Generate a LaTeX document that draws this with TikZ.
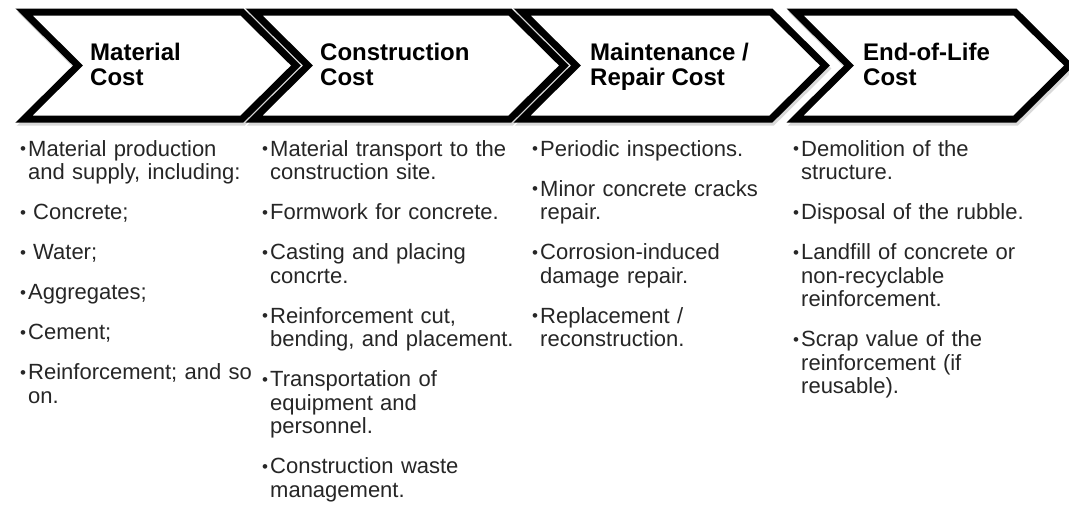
\documentclass[tikz,border=0pt]{standalone}
\usepackage{fontspec}
\setmainfont{Liberation Sans}

% chevron outline: left x, right x (top corners); pointer depth 54
\newcommand\chevronpath[2]{(#1,12) -- (#2,12) -- (#2+54,65.5) -- (#2,119) -- (#1,119) -- (#1+54,65.5) -- cycle}
% bullet item with hanging indent
\newcommand\smallbullet{\raisebox{1.5pt}{\fontsize{17}{17}\selectfont\textbullet}}
\newcommand\bitem[1]{\par\noindent\hangindent=8pt\hangafter=1\makebox[8pt][l]{\smallbullet}#1\par}

\begin{document}
\begin{tikzpicture}[x=1pt,y=-1pt,
  chev/.style={draw=black, line width=7pt, line join=miter, fill=white},
  chevshade/.style={draw=black!15, line width=7pt, line join=miter},
  head/.style={anchor=north west, inner sep=0pt, align=left,
    font=\fontsize{24}{25}\selectfont\bfseries},
  body/.style={anchor=north west, inner sep=0pt, text width=262pt, align=left,
    font=\fontsize{22}{23.5}\selectfont, text=black!85}]
\useasboundingbox (0,0) rectangle (1069,512);
\fill[white] (0,0) rectangle (1069,512);

% soft shadows under the chevrons
\foreach \l/\r in {24/242,254/510,522/771,795/1015}
  \draw[chevshade, shift={(1.5,3)}] \chevronpath{\l}{\r};
% chevrons
\foreach \l/\r in {24/242,254/510,522/771,795/1015}
  \draw[chev] \chevronpath{\l}{\r};

% headings
\node[head] (h1) at (90,43) {Material\\Cost};
\node[head] (h2) at (320,43) {Construction\\Cost};
\node[head] (h3) at (590,43) {Maintenance /\\Repair Cost};
\node[head] (h4) at (863,43) {End-of-Life\\Cost};

% cost items
\node[body] (c1) at (20,116) {\setlength{\parskip}{16.5pt}%
  \bitem{Material production\newline and supply, including:}%
  \bitem{\hspace{5pt}Concrete;}%
  \bitem{\hspace{5pt}Water;}%
  \bitem{Aggregates;}%
  \bitem{Cement;}%
  \bitem{Reinforcement; and so\newline on.}};

\node[body] (c2) at (262,116) {\setlength{\parskip}{16.5pt}%
  \bitem{Material transport to the\newline construction site.}%
  \bitem{Formwork for concrete.}%
  \bitem{Casting and placing\newline concrte.}%
  \bitem{Reinforcement cut,\newline bending, and placement.}%
  \bitem{Transportation of\newline equipment and\newline personnel.}%
  \bitem{Construction waste\newline management.}};

\node[body] (c3) at (532,116) {\setlength{\parskip}{16.5pt}%
  \bitem{Periodic inspections.}%
  \bitem{Minor concrete cracks\newline repair.}%
  \bitem{Corrosion-induced\newline damage repair.}%
  \bitem{Replacement /\newline reconstruction.}};

\node[body] (c4) at (793,116) {\setlength{\parskip}{16.5pt}%
  \bitem{Demolition of the\newline structure.}%
  \bitem{Disposal of the rubble.}%
  \bitem{Landfill of concrete or\newline non-recyclable\newline reinforcement.}%
  \bitem{Scrap value of the\newline reinforcement (if\newline reusable).}};
\end{tikzpicture}
\end{document}
